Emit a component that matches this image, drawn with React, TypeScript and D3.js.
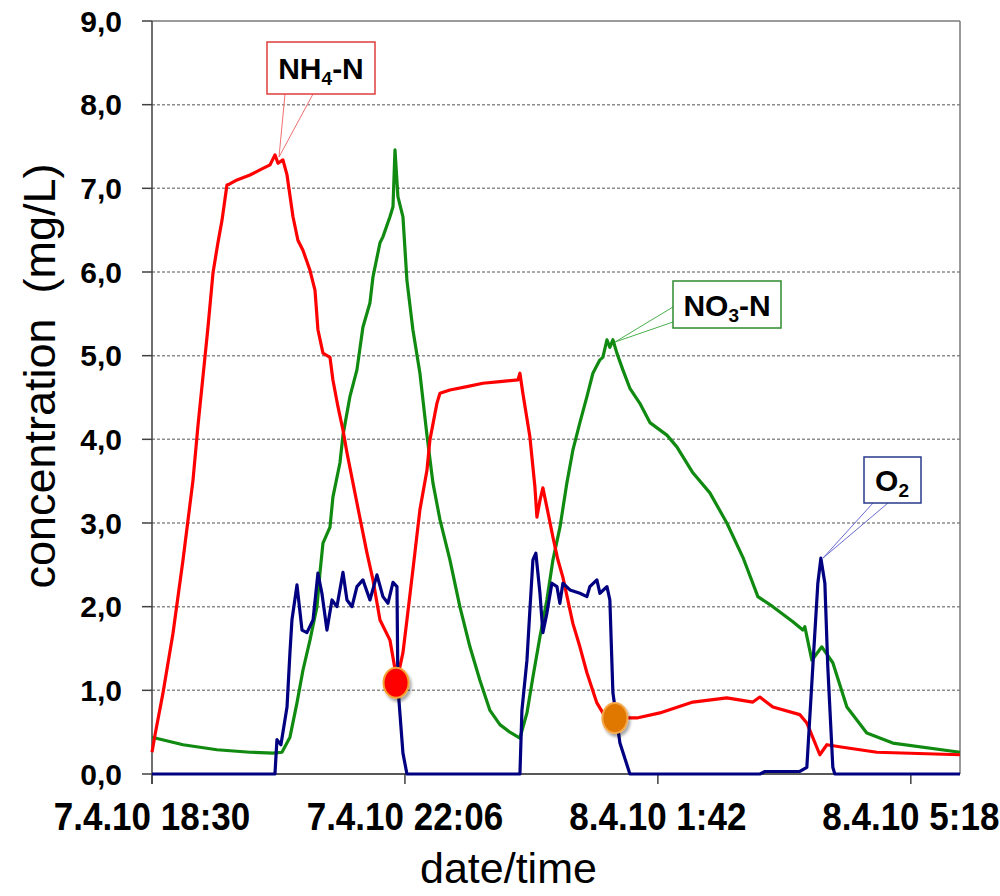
import * as d3 from 'd3';

// minutes after 7.4.10 18:30, concentration mg/L
const nh4: [number, number][] = [
  [0, 0.26], [2.6, 0.47], [9.4, 0.97], [17.9, 1.68], [26.5, 2.56], [35, 3.51], [39.3, 4.17],
  [45.2, 4.98], [47.8, 5.34], [52.1, 5.99], [56.3, 6.35], [59.8, 6.62], [64, 7.04], [66, 7.05],
  [72.6, 7.1], [83.7, 7.16], [92.2, 7.22], [100.8, 7.28], [105, 7.4], [107.6, 7.3], [111.8, 7.34],
  [115.3, 7.16], [120.4, 6.66], [124.6, 6.38], [128.9, 6.26], [134.9, 6.02], [139.2, 5.78],
  [141.7, 5.31], [146, 5.03], [152, 4.98], [154.5, 4.71], [158.8, 4.39], [163.1, 4.11],
  [166.5, 3.84], [175, 3.24], [183.6, 2.64], [188.7, 2.32], [194.7, 1.84], [203.2, 1.6],
  [209.2, 1.12], [214.3, 1.45], [217.7, 1.84], [222.8, 2.44], [228.8, 3.16], [234.8, 3.63],
  [237.3, 3.99], [243.3, 4.43], [245.9, 4.55], [254.4, 4.59], [268.9, 4.63], [282.6, 4.67],
  [297.1, 4.69], [312.5, 4.71], [314.2, 4.79], [316.7, 4.55], [322.7, 4.03], [327, 3.43],
  [328.7, 3.07], [331.3, 3.27], [333.8, 3.42], [337.2, 3.19], [342.4, 2.83], [346.6, 2.56],
  [350.9, 2.35], [359.4, 1.8], [365.4, 1.52], [371.4, 1.21], [379.9, 0.85], [385, 0.73],
  [393.6, 0.67], [414.1, 0.67], [433.7, 0.73], [461.9, 0.86], [490.9, 0.91], [513.1, 0.86],
  [519.1, 0.92], [530.2, 0.8], [553.2, 0.71], [559.2, 0.61], [570.3, 0.23], [576.3, 0.35],
  [589.9, 0.32], [619, 0.26], [690, 0.23],
];

const no3: [number, number][] = [
  [0, 0.44], [26.5, 0.35], [55.5, 0.29], [83.7, 0.26], [103.3, 0.25], [111, 0.26], [117.8, 0.44],
  [123.8, 0.85], [128.9, 1.24], [134.9, 1.6], [140.9, 2.0], [143.4, 2.4], [146, 2.76], [152, 2.95],
  [154.5, 3.31], [160.5, 3.72], [163.1, 4.05], [169, 4.51], [175, 4.83], [180.1, 5.34],
  [186.1, 5.63], [188.7, 5.94], [194.7, 6.35], [197.2, 6.42], [203.2, 6.66], [205.8, 6.78],
  [207.5, 7.46], [210, 6.9], [214.3, 6.66], [217.7, 5.9], [222.8, 5.31], [228.8, 4.79],
  [234.8, 4.05], [239.9, 3.48], [245.9, 3.04], [254.4, 2.56], [262.9, 2.0], [271.5, 1.52],
  [280, 1.12], [288.6, 0.76], [297.1, 0.59], [305.6, 0.5], [314.2, 0.43], [320.2, 0.73],
  [325.3, 1.16], [331.3, 1.64], [337.2, 2.08], [342.4, 2.56], [348.4, 2.95], [354.3, 3.48],
  [359.4, 3.87], [365.4, 4.2], [371.4, 4.51], [376.5, 4.79], [382.5, 4.95], [385, 4.98],
  [388.5, 5.19], [391, 5.1], [393.6, 5.19], [397, 5.03], [402.1, 4.83], [408.1, 4.61],
  [416.6, 4.43], [425.2, 4.2], [439.7, 4.05], [448.2, 3.91], [461.9, 3.6], [476.4, 3.36],
  [490.9, 3.0], [504.6, 2.59], [517.4, 2.12], [530.2, 2.0], [547.3, 1.82], [555.8, 1.72],
  [557.5, 1.76], [563.5, 1.36], [572, 1.52], [581.4, 1.33], [593.4, 0.8], [610.4, 0.49],
  [632.6, 0.37], [690, 0.26],
];

const o2: [number, number][] = [
  [0, 0], [105, 0], [106.7, 0.41], [110.1, 0.35], [115.3, 0.8], [117.8, 1.45], [119.5, 1.84],
  [123.8, 2.26], [128.1, 1.72], [132.3, 1.69], [137.5, 1.84], [141.7, 2.4], [145.1, 2.16],
  [149.4, 1.72], [153.7, 2.08], [157.9, 2.0], [163.1, 2.41], [166.5, 2.08], [170.8, 2.0],
  [175, 2.24], [180.1, 2.32], [186.1, 2.08], [192.1, 2.38], [197.2, 2.12], [201.5, 2.04],
  [205.8, 2.29], [209.2, 2.24], [210, 1.04], [214.3, 0.25], [217.7, 0], [314.2, 0],
  [315.9, 0.76], [320.2, 1.36], [322.7, 1.96], [325.3, 2.56], [327.8, 2.64], [331.3, 2.16],
  [333.8, 1.69], [337.2, 1.92], [341.5, 2.28], [345.8, 2.24], [348.3, 2.04], [350.9, 2.28],
  [356.9, 2.2], [365.4, 2.16], [371.4, 2.12], [373.9, 2.24], [379.9, 2.32], [382.5, 2.16],
  [388.5, 2.24], [391, 2.08], [393.6, 0.97], [399.6, 0.37], [408.1, 0], [519.1, 0],
  [523.4, 0.03], [553.2, 0.03], [559.2, 0.08], [564.3, 1.28], [568.6, 2.28], [571.2, 2.58],
  [574.6, 2.28], [577.1, 1.28], [581.4, 0.08], [583.1, 0], [690, 0],
];

// highlighted points
const markers: [number, number, string, string][] = [
  [208.4, 1.09, '#ff0000', '#f5a030'],
  [395.3, 0.67, '#e07800', '#f5a84a'],
];

const yTicks = [0, 1, 2, 3, 4, 5, 6, 7, 8, 9];
const xTickMinutes = [0, 216, 432, 648];

const start = new Date(2010, 3, 7, 18, 30);
const t = (m: number) => new Date(start.getTime() + m * 60000);

const fmtDate = (d: Date) =>
  `${d.getDate()}.${d.getMonth() + 1}.${String(d.getFullYear()).slice(2)} ${d.getHours()}:${String(d.getMinutes()).padStart(2, '0')}`;

export default function App() {
  const left = 152, right = 960, top = 21, bottom = 774;

  const x = d3.scaleTime().domain([start, t(690)]).range([left, right]);
  const y = d3.scaleLinear().domain([0, 9]).range([bottom, top]);

  const line = d3.line<[number, number]>()
    .x(d => x(t(d[0])))
    .y(d => y(d[1]));

  const font = 'Liberation Sans, Arial, sans-serif';

  return (
    <svg width={1000} height={896} style={{ position: 'absolute', left: 0, top: 0, background: '#fff' }} fontFamily={font}>
      <defs>
        <filter id="sh" x="-50%" y="-50%" width="200%" height="200%">
          <feDropShadow dx="2" dy="3" stdDeviation="1.5" floodColor="#000" floodOpacity="0.35" />
        </filter>
      </defs>

      {/* gridlines */}
      {yTicks.filter(v => v > 0 && v < 9).map(v => (
        <line key={v} x1={left} x2={right} y1={y(v)} y2={y(v)} stroke="#8c8c8c" strokeWidth={1.5} strokeDasharray="3,2" />
      ))}
      <line x1={left} x2={right} y1={y(9)} y2={y(9)} stroke="#7a7a7a" strokeWidth={1.5} />
      <line x1={right} x2={right} y1={top} y2={bottom} stroke="#7a7a7a" strokeWidth={1.5} />

      {/* axes */}
      <line x1={left} x2={left} y1={top} y2={bottom + 10} stroke="#404040" strokeWidth={1.5} />
      <line x1={left} x2={right} y1={bottom} y2={bottom} stroke="#202020" strokeWidth={1.5} />
      {yTicks.map(v => (
        <g key={v}>
          <line x1={left - 10} x2={left} y1={y(v)} y2={y(v)} stroke="#404040" strokeWidth={1.5} />
          <text x={122} y={y(v)} dy="0.35em" textAnchor="end" fontSize={30} fontWeight="bold" fill="#000">
            {d3.format('.1f')(v).replace('.', ',')}
          </text>
        </g>
      ))}
      {xTickMinutes.map(m => (
        <g key={m}>
          <line x1={x(t(m))} x2={x(t(m))} y1={bottom} y2={bottom + 10} stroke="#404040" strokeWidth={1.5} />
          <text transform={`translate(${x(t(m))},830) scale(1,1.1)`} textAnchor="middle" fontSize={35} fontWeight="bold" fill="#000">
            {fmtDate(t(m))}
          </text>
        </g>
      ))}

      {/* axis titles */}
      <text transform="translate(55,376) rotate(-90)" textAnchor="middle" fontSize={45} fill="#000" style={{ whiteSpace: 'pre' }}>
        {'concentration  (mg/L)'}
      </text>
      <text x={420} y={883} fontSize={43} fill="#000">date/time</text>

      {/* series */}
      <path d={line(no3) ?? ''} fill="none" stroke="#108a10" strokeWidth={3.2} strokeLinejoin="round" />
      <path d={line(nh4) ?? ''} fill="none" stroke="#ff0000" strokeWidth={3.2} strokeLinejoin="round" />
      <path d={line(o2) ?? ''} fill="none" stroke="#000080" strokeWidth={3.2} strokeLinejoin="round" />

      {markers.map(([m, v, fill, stroke], i) => (
        <ellipse key={i} cx={x(t(m))} cy={y(v)} rx={12.5} ry={15} fill={fill} stroke={stroke} strokeWidth={2} filter="url(#sh)" />
      ))}

      {/* callouts */}
      <g>
        <polyline points="285,94 279,157 313,94" fill="none" stroke="#f07070" strokeWidth={1} />
        <rect x={267} y={42} width={108} height={52} fill="#fff" stroke="#e03c3c" strokeWidth={1.5} />
        <text x={321} y={79} textAnchor="middle" fontSize={30} fontWeight="bold" fill="#000">
          NH<tspan fontSize={19} dy={6}>4</tspan><tspan dy={-6}>-N</tspan>
        </text>
      </g>
      <g>
        <polyline points="673,307 615,342 673,322" fill="none" stroke="#4caf4c" strokeWidth={1} />
        <rect x={673} y={281} width={108} height={47} fill="#fff" stroke="#2e8b2e" strokeWidth={1.5} />
        <text x={727} y={316} textAnchor="middle" fontSize={30} fontWeight="bold" fill="#000">
          NO<tspan fontSize={19} dy={6}>3</tspan><tspan dy={-6}>-N</tspan>
        </text>
      </g>
      <g>
        <polyline points="873,503 823,558 888,503" fill="none" stroke="#6a6ad0" strokeWidth={1} />
        <rect x={864} y={457} width={57} height={46} fill="#fff" stroke="#2a3a8a" strokeWidth={1.5} />
        <text x={892} y={491} textAnchor="middle" fontSize={30} fontWeight="bold" fill="#000">
          O<tspan fontSize={19} dy={6}>2</tspan>
        </text>
      </g>
    </svg>
  );
}
